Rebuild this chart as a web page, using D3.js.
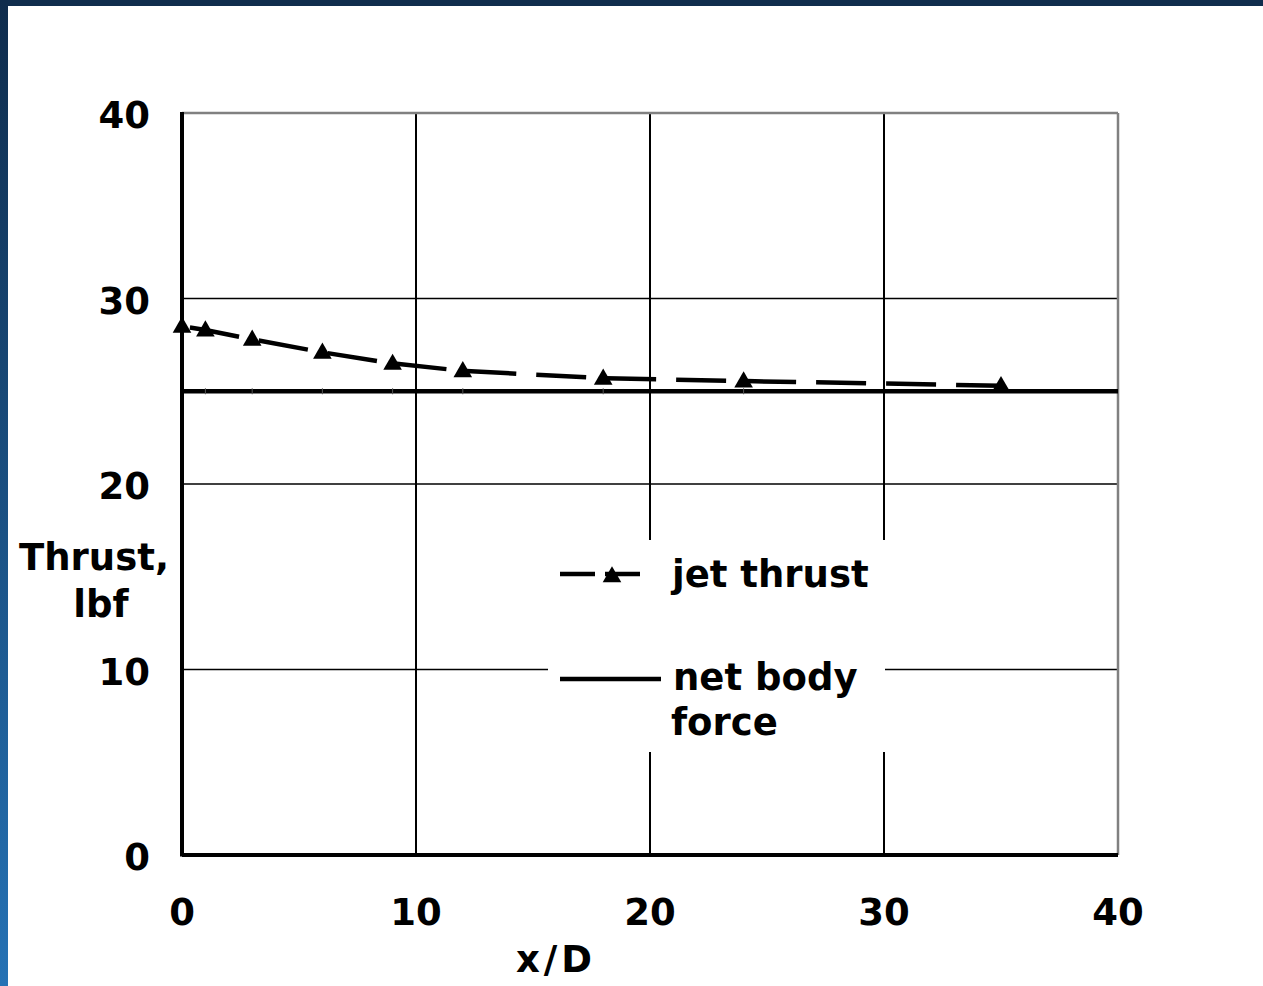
<!DOCTYPE html>
<html>
<head>
<meta charset="utf-8">
<script src="https://cdn.jsdelivr.net/npm/d3@7"></script>
<style>
  body { margin: 0; background: #fff; }
  svg { display: block; }
  text { font-family: "DejaVu Sans", Verdana, sans-serif; font-weight: bold; fill: #000; }
</style>
</head>
<body>
<div id="chart"></div>
<script>
// values
var jetX = [0, 1, 3, 6, 9, 12, 18, 24, 35];
var jetThrust = [28.5, 28.3, 27.8, 27.1, 26.5, 26.1, 25.7, 25.55, 25.3];
var netX = [0, 1, 3, 6, 9, 12, 18, 24, 35, 40];
var netForce = [25, 25, 25, 25, 25, 25, 25, 25, 25, 25];
var xTicks = [0, 10, 20, 30, 40];
var yTicks = [0, 10, 20, 30, 40];

var width = 1263, height = 986;

var svg = d3.select("#chart")
  .append("svg")
  .attr("width", width)
  .attr("height", height);

// slide background: dark band on top, blue gradient on the left
var defs = svg.append("defs");
var grad = defs.append("linearGradient")
  .attr("id", "side").attr("x1", 0).attr("y1", 0).attr("x2", 0).attr("y2", 1);
grad.append("stop").attr("offset", "0%").attr("stop-color", "#0f2c4c");
grad.append("stop").attr("offset", "100%").attr("stop-color", "#2572b5");

svg.append("rect").attr("x", 0).attr("y", 0).attr("width", width).attr("height", height).attr("fill", "#fff");
svg.append("rect").attr("x", 0).attr("y", 0).attr("width", width).attr("height", 6).attr("fill", "#102d4d");
svg.append("rect").attr("x", 0).attr("y", 0).attr("width", 8).attr("height", height).attr("fill", "url(#side)");

var x = d3.scaleLinear().domain([0, 40]).range([182, 1118]);
var y = d3.scaleLinear().domain([0, 40]).range([855, 113]);

// grid lines
var grid = svg.append("g");
grid.selectAll("line.gx")
  .data(xTicks.slice(1, -1))
  .enter().append("line")
    .attr("x1", function(d) { return x(d); })
    .attr("x2", function(d) { return x(d); })
    .attr("y1", y(0)).attr("y2", y(40))
    .attr("stroke", "#000").attr("stroke-width", 2);
grid.selectAll("line.gy")
  .data(yTicks.slice(1, -1))
  .enter().append("line")
    .attr("x1", x(0)).attr("x2", x(40))
    .attr("y1", function(d) { return y(d); })
    .attr("y2", function(d) { return y(d); })
    .attr("stroke", "#000").attr("stroke-width", 1.5);

// plot frame: grey top/right, heavy black left/bottom axes
svg.append("line").attr("x1", x(0)).attr("x2", x(40)).attr("y1", y(40)).attr("y2", y(40))
  .attr("stroke", "#808080").attr("stroke-width", 2.5);
svg.append("line").attr("x1", x(40)).attr("x2", x(40)).attr("y1", y(40)).attr("y2", y(0))
  .attr("stroke", "#808080").attr("stroke-width", 2.5);

// net body force
var line = d3.line()
  .x(function(d) { return x(d[0]); })
  .y(function(d) { return y(d[1]); });

var netData = d3.zip(netX, netForce);
svg.append("path")
  .datum(netData)
  .attr("d", line)
  .attr("fill", "none")
  .attr("stroke", "#000")
  .attr("stroke-width", 4.5);
// faint tick markers of the net series
svg.selectAll("line.nm")
  .data(netData.slice(1, -2))
  .enter().append("line")
    .attr("x1", function(d) { return x(d[0]); })
    .attr("x2", function(d) { return x(d[0]); })
    .attr("y1", function(d) { return y(d[1]) - 3; })
    .attr("y2", function(d) { return y(d[1]) + 3; })
    .attr("stroke", "#555").attr("stroke-width", 1);

// jet thrust, dashed with triangles
var jetData = d3.zip(jetX, jetThrust);
svg.append("path")
  .datum(jetData)
  .attr("d", line)
  .attr("fill", "none")
  .attr("stroke", "#000")
  .attr("stroke-width", 4.5)
  .attr("stroke-dasharray", "50,20")
  .attr("stroke-dashoffset", -8);

var tri = d3.symbol().type(d3.symbolTriangle).size(150);
svg.selectAll("path.mk")
  .data(jetData)
  .enter().append("path")
    .attr("d", tri)
    .attr("transform", function(d) { return "translate(" + x(d[0]) + "," + (y(d[1]) + 1) + ")"; })
    .attr("fill", "#000");

// axes lines
svg.append("line").attr("x1", x(0)).attr("x2", x(0)).attr("y1", y(40) - 1).attr("y2", y(0) + 1.5)
  .attr("stroke", "#000").attr("stroke-width", 4);
svg.append("line").attr("x1", x(0)).attr("x2", x(40)).attr("y1", y(0)).attr("y2", y(0))
  .attr("stroke", "#000").attr("stroke-width", 4);

// tick labels
svg.selectAll("text.xt")
  .data(xTicks)
  .enter().append("text")
    .attr("x", function(d) { return x(d); })
    .attr("y", 925)
    .attr("text-anchor", "middle")
    .attr("font-size", 37)
    .text(function(d) { return d; });
svg.selectAll("text.yt")
  .data(yTicks)
  .enter().append("text")
    .attr("x", 150)
    .attr("y", function(d) { return y(d) + 15; })
    .attr("text-anchor", "end")
    .attr("font-size", 37)
    .text(function(d) { return d; });

// axis titles
svg.append("text").attr("x", 556).attr("y", 972).attr("text-anchor", "middle")
  .attr("font-size", 37).attr("letter-spacing", 4).text("x/D");
svg.append("text").attr("x", 94).attr("y", 570).attr("text-anchor", "middle")
  .attr("font-size", 37).text("Thrust,");
svg.append("text").attr("x", 101).attr("y", 617).attr("text-anchor", "middle")
  .attr("font-size", 37).text("lbf");

// legend
var lg = svg.append("g");
lg.append("rect").attr("x", 548).attr("y", 540).attr("width", 337).attr("height", 212).attr("fill", "#fff");
lg.append("line").attr("x1", 560).attr("x2", 648).attr("y1", 574).attr("y2", 574)
  .attr("stroke", "#000").attr("stroke-width", 4.5).attr("stroke-dasharray", "35,10");
lg.append("path").attr("d", tri).attr("transform", "translate(612,577)").attr("fill", "#000");
lg.append("text").attr("x", 672).attr("y", 587).attr("font-size", 37).text("jet thrust");
lg.append("line").attr("x1", 560).attr("x2", 661).attr("y1", 679).attr("y2", 679)
  .attr("stroke", "#000").attr("stroke-width", 4.5);
lg.append("text").attr("x", 673).attr("y", 690).attr("font-size", 37).text("net body");
lg.append("text").attr("x", 671).attr("y", 735).attr("font-size", 37).text("force");
</script>
</body>
</html>
